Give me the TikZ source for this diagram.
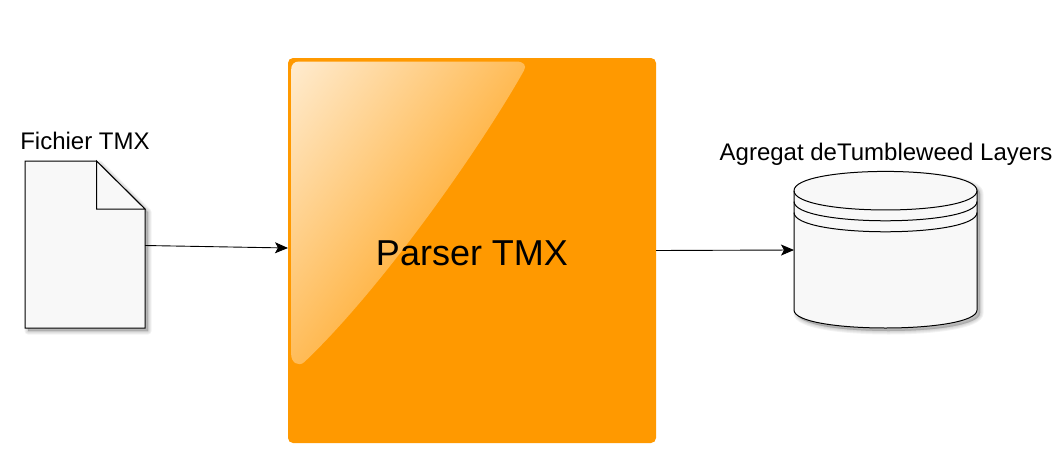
\documentclass[tikz,border=0pt]{standalone}
\usepackage{fontspec}
\setmainfont{Liberation Sans}
\usetikzlibrary{arrows.meta,fadings}
\definecolor{orangeF}{HTML}{FF9900}
\definecolor{paleF}{HTML}{F8F8F8}
\tikzfading[name=glossfade, top color=transparent!18, bottom color=transparent!93]
\tikzset{
  x=1pt,y=-1pt,
  arr/.style={draw=black,line width=0.9pt,-{Stealth[length=13pt,width=11pt,inset=3pt]}},
  lbl/.style={anchor=base,inner sep=0pt,font=\fontsize{24}{24}\selectfont},
  anchorbox/.style={inner sep=0pt,outer sep=0pt,minimum width=#1},
  shape line/.style={draw=black,line width=1pt,fill=paleF,line join=miter},
  soft/.style={draw=black,fill=black,opacity=0.05,line join=round,line width=#1},
}
\newcommand{\docoutline}{(25,161) -- (96.5,161) -- (145,209) -- (145,328) -- (25,328) -- cycle}
\newcommand{\storeoutline}{(794,190.7) .. controls (794,165) and (977,165) .. (977,190.7) -- (977,310) .. controls (977,334) and (794,334) .. (794,310) -- cycle}
\begin{document}
\begin{tikzpicture}
\useasboundingbox (0,0) rectangle (1062,458);
% parser
\node[anchorbox=368pt,minimum height=385pt,draw=none,fill=orangeF,rounded corners=5pt] (parser) at (472,250.5) {};
\path[fill=white,path fading=glossfade,fit fading=false,
  fading transform={shift={(377,190)},rotate=53,scale=5.9}]
  (299,61) -- (516,61) .. controls (524,61) and (527,65) .. (524,70)
  .. controls (485,140) and (385,285) .. (304,362)
  .. controls (298,367) and (291,362) .. (291,354) -- (291,69)
  .. controls (291,64) and (294,61) .. (299,61) -- cycle;
\node[anchor=base,inner sep=0pt,font=\fontsize{36}{36}\selectfont] (ptext) at (472,265) {Parser TMX};
% document
\foreach \w in {7,5,3,1}{\path[soft=\w pt,shift={(3,3)}] \docoutline;}
\draw[shape line] \docoutline;
\draw[shape line] (96.5,161) -- (96.5,209) -- (145,209) -- cycle;
\node[anchorbox=120pt,minimum height=167pt] (doc) at (85,244.5) {};
\node[lbl] (doctext) at (85,149) {Fichier TMX};
% store
\foreach \w in {7,5,3,1}{\path[soft=\w pt,shift={(3,3)}] \storeoutline;}
\draw[shape line] \storeoutline;
\draw[line width=1pt] (794,190.7) .. controls (794,216.4) and (977,216.4) .. (977,190.7);
\draw[line width=1pt] (794,201.5) .. controls (794,227.2) and (977,227.2) .. (977,201.5);
\draw[line width=1pt] (794,212.5) .. controls (794,238.2) and (977,238.2) .. (977,212.5);
\node[anchorbox=183pt,minimum height=157pt] (store) at (885.5,250) {};
\node[lbl] (storetext) at (886,160) {Agregat deTumbleweed Layers};
% connectors
\draw[arr] ([yshift=-1pt]doc.east) -- ([yshift=2.5pt]parser.west);
\draw[arr] (parser.east) -- (store.west);
\end{tikzpicture}
\end{document}
